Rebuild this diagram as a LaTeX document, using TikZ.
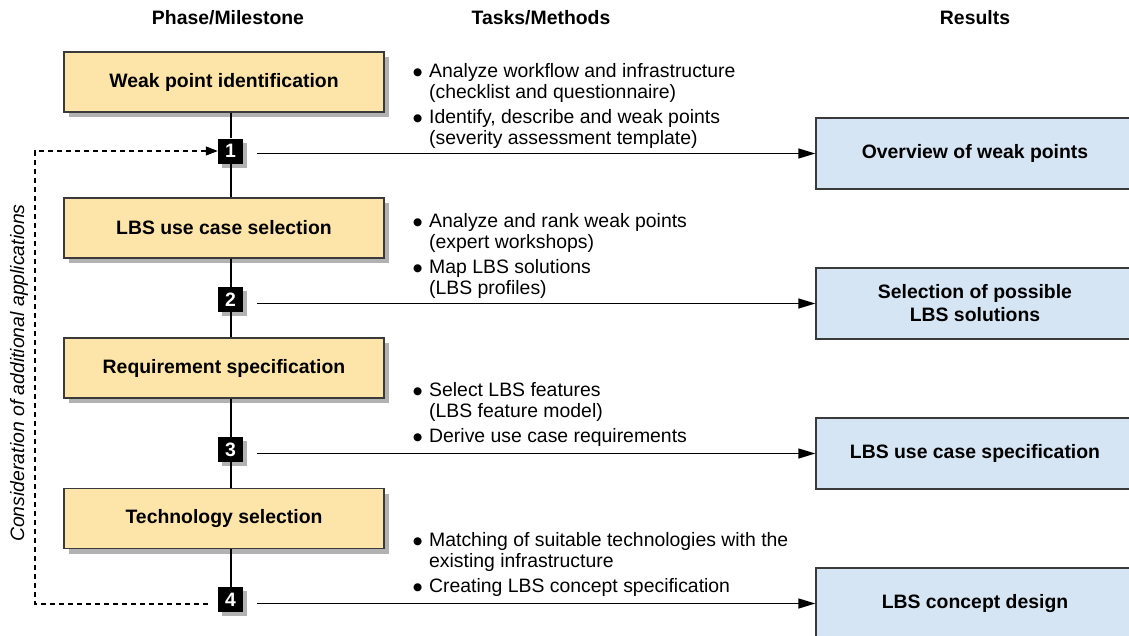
\documentclass[tikz,border=0pt]{standalone}
\usepackage{fontspec}
\setmainfont{Liberation Sans}
\newfontfamily\symf{DejaVu Sans}
\usetikzlibrary{shadows,calc,arrows.meta}
\definecolor{phasefill}{HTML}{FDE4A8}
\definecolor{resfill}{HTML}{D6E5F3}
\definecolor{edgecol}{HTML}{3A3A3A}
\newcommand{\tbul}{\makebox[16pt][l]{\raisebox{1.8pt}{\symf\fontsize{10.5}{10.5}\selectfont ●}}}
\newcommand{\tind}{\hspace*{16pt}}
\begin{document}
\begin{tikzpicture}[x=1pt,y=-1pt,
  every node/.style={font=\fontsize{19.4}{21.5}\selectfont, inner sep=0pt},
  boldtext/.style={font=\fontsize{19.4}{23}\selectfont\bfseries},
  header/.style={boldtext},
  phase/.style={boldtext, draw=edgecol, line width=1.3pt, fill=phasefill,
    minimum width=320pt, minimum height=60pt,
    drop shadow={shadow xshift=5pt, shadow yshift=-5pt, fill=black!30, opacity=1}},
  milestone/.style={boldtext, fill=black, text=white, minimum size=25pt,
    drop shadow={shadow xshift=4pt, shadow yshift=-4pt, fill=black!30, opacity=1}},
  result/.style={boldtext, draw=edgecol, line width=1.3pt, fill=resfill,
    minimum width=318pt, minimum height=71pt, align=center},
  task/.style={anchor=north west, align=left},
  note/.style={font=\fontsize{19.4}{21.5}\selectfont\itshape, rotate=90},
  spine/.style={line width=2pt, black},
  arr/.style={line width=1.3pt, -{Triangle[length=17pt,width=10pt]}},
  dasharr/.style={line width=1.2pt, dash pattern=on 5pt off 4pt, -{Triangle[length=12pt,width=9pt]}}
]
\path[use as bounding box] (0,0) rectangle (1129,635);
\clip (0,0) rectangle (1129,635);

% headers
\node[header] (h1) at (228,18) {Phase/Milestone};
\node[header] (h2) at (541,18) {Tasks/Methods};
\node[header] (h3) at (975,18) {Results};

% phases
\node[phase] (p1) at (224,82) {Weak point identification};
\node[phase] (p2) at (224,228) {LBS use case selection};
\node[phase] (p3) at (224,368) {Requirement specification};
\node[phase] (p4) at (224,518.5) {Technology selection};

% milestones
\node[milestone] (m1) at (230.5,151) {1};
\node[milestone] (m2) at (230.5,299.5) {2};
\node[milestone] (m3) at (230.5,449.5) {3};
\node[milestone] (m4) at (230.5,599.5) {4};

% spine
\draw[spine] (m1 |- p1.south) -- (m1.north);
\draw[spine] (m1.south) -- (m1 |- p2.north);
\draw[spine] (m2 |- p2.south) -- (m2.north);
\draw[spine] (m2.south) -- (m2 |- p3.north);
\draw[spine] (m3 |- p3.south) -- (m3.north);
\draw[spine] (m3.south) -- (m3 |- p4.north);
\draw[spine] (m4 |- p4.south) -- (m4.north);

% results
\node[result] (r1) at (975,153.5) {Overview of weak points};
\node[result] (r2) at (975,303.5) {Selection of possible\\LBS solutions};
\node[result] (r3) at (975,453.5) {LBS use case specification};
\node[result] (r4) at (975,603.5) {LBS concept design};

% tasks
\node[task] (t1) at (413,63) {\tbul Analyze workflow and infrastructure\\\tind(checklist and questionnaire)\\[3pt]\tbul Identify, describe and weak points\\\tind(severity assessment template)};
\node[task] (t2) at (413,213) {\tbul Analyze and rank weak points\\\tind(expert workshops)\\[3pt]\tbul Map LBS solutions\\\tind(LBS profiles)};
\node[task] (t3) at (413,382) {\tbul Select LBS features\\\tind(LBS feature model)\\[3pt]\tbul Derive use case requirements};
\node[task] (t4) at (413,532) {\tbul Matching of suitable technologies with the\\\tind existing infrastructure\\[3pt]\tbul Creating LBS concept specification};

% connectors to results
\coordinate (s1) at ($(m1.east)+(14,0)$);
\coordinate (s2) at ($(m2.east)+(14,0)$);
\coordinate (s3) at ($(m3.east)+(14,0)$);
\coordinate (s4) at ($(m4.east)+(14,0)$);
\draw[arr] (s1 |- r1.west) -- (r1.west);
\draw[arr] (s2 |- r2.west) -- (r2.west);
\draw[arr] (s3 |- r3.west) -- (r3.west);
\draw[arr] (s4 |- r4.west) -- (r4.west);

% feedback loop
\coordinate (d0) at ($(m4.west)+(-10,4.5)$);
\coordinate (dc) at (35,151);
\draw[dasharr] (d0) -| (dc) -- (m1.west);
\node[note] (n1) at (19,373) {Consideration of additional applications};
\end{tikzpicture}
\end{document}
